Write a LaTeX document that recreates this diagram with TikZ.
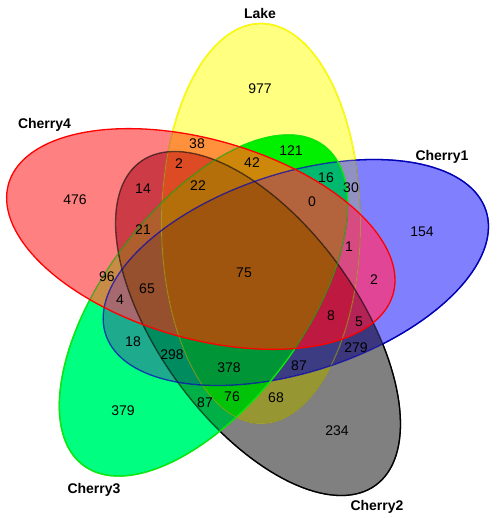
\documentclass[tikz,border=0pt]{standalone}
\usepackage{fontspec}
\setmainfont{Liberation Sans}
\def\pY{plot[domain=0:360,samples=144,variable=\t] ({261+200*cos(\t)*cos(90)-99.5*sin(\t)*sin(90)},{294.5+200*cos(\t)*sin(90)+99.5*sin(\t)*cos(90)}) -- cycle}
\def\pB{plot[domain=0:360,samples=144,variable=\t] ({295.8+200*cos(\t)*cos(18)-99.5*sin(\t)*sin(18)},{245.5+200*cos(\t)*sin(18)+99.5*sin(\t)*cos(18)}) -- cycle}
\def\pK{plot[domain=0:360,samples=144,variable=\t] ({258+200*cos(\t)*cos(-54)-99.5*sin(\t)*sin(-54)},{194.5+200*cos(\t)*sin(-54)+99.5*sin(\t)*cos(-54)}) -- cycle}
\def\pN{plot[domain=0:360,samples=144,variable=\t] ({203.5+200*cos(\t)*cos(53)-99.5*sin(\t)*sin(53)},{212.5+200*cos(\t)*sin(53)+99.5*sin(\t)*cos(53)}) -- cycle}
\def\pR{plot[domain=0:360,samples=144,variable=\t] ({200.8+200*cos(\t)*cos(164)-99.5*sin(\t)*sin(164)},{279+200*cos(\t)*sin(164)+99.5*sin(\t)*cos(164)}) -- cycle}
\def\pInv{(-20,-20) -- (-20,540) -- (520,540) -- (520,-20) -- cycle}
% region: Lake, Cherry1, Cherry2, Cherry3, Cherry4, colour
\newcommand\vreg[6]{%
  \begin{scope}
    \ifnum#1=1 \clip \pY; \else \clip \pInv \pY; \fi
    \ifnum#2=1 \clip \pB; \else \clip \pInv \pB; \fi
    \ifnum#3=1 \clip \pK; \else \clip \pInv \pK; \fi
    \ifnum#4=1 \clip \pN; \else \clip \pInv \pN; \fi
    \ifnum#5=1 \clip \pR; \else \clip \pInv \pR; \fi
    \definecolor{regc}{RGB}{#6}
    \fill[regc] (-5,-5) rectangle (503,523);
  \end{scope}}
\begin{document}
\begin{tikzpicture}[x=1pt,y=1pt]
\definecolor{cRed}{RGB}{255,0,0}
\definecolor{cYellow}{RGB}{255,255,0}
\definecolor{cBlueLine}{RGB}{0,0,180}
\definecolor{cGreenLine}{RGB}{10,235,10}
\tikzset{
  outl/.style={line width=1.3pt},
  num/.style={font=\fontsize{14}{16}\selectfont, inner sep=0pt, text=black},
  setlabel/.style={font=\fontsize{14}{16}\selectfont\bfseries, inner sep=0pt, anchor=base, text=black}
}
\useasboundingbox (0,0) rectangle (498,518);
\fill[white] (0,0) rectangle (498,518);
% regions        Y B K N R
\vreg{1}{0}{0}{0}{0}{255,255,128}
\vreg{0}{1}{0}{0}{0}{128,128,255}
\vreg{0}{0}{1}{0}{0}{128,128,128}
\vreg{0}{0}{0}{1}{0}{0,255,128}
\vreg{0}{0}{0}{0}{1}{255,128,128}
\vreg{1}{0}{0}{0}{1}{255,145,60}
\vreg{1}{0}{0}{1}{0}{0,240,0}
\vreg{1}{1}{0}{0}{0}{145,145,195}
\vreg{0}{0}{1}{0}{1}{205,60,70}
\vreg{0}{1}{0}{0}{1}{225,70,150}
\vreg{0}{1}{1}{0}{0}{60,55,125}
\vreg{1}{0}{1}{0}{0}{150,150,50}
\vreg{0}{0}{0}{1}{1}{200,140,70}
\vreg{0}{1}{0}{1}{0}{30,170,140}
\vreg{0}{0}{1}{1}{0}{0,175,70}
\vreg{1}{0}{1}{0}{1}{220,75,35}
\vreg{0}{0}{1}{1}{1}{175,95,45}
\vreg{1}{0}{0}{1}{1}{205,135,10}
\vreg{1}{1}{0}{1}{0}{0,185,110}
\vreg{1}{1}{0}{0}{1}{215,75,130}
\vreg{0}{1}{1}{0}{1}{180,35,85}
\vreg{1}{1}{1}{0}{0}{60,60,130}
\vreg{0}{1}{0}{1}{1}{165,105,110}
\vreg{0}{1}{1}{1}{0}{0,140,95}
\vreg{1}{0}{1}{1}{0}{0,195,10}
\vreg{1}{0}{1}{1}{1}{180,110,10}
\vreg{1}{1}{0}{1}{1}{180,100,60}
\vreg{1}{1}{1}{0}{1}{190,25,65}
\vreg{0}{1}{1}{1}{1}{150,80,45}
\vreg{1}{1}{1}{1}{0}{0,150,55}
\vreg{1}{1}{1}{1}{1}{160,85,15}
% outlines, dimmed where covered by other sets
\draw[outl, cYellow!60!black, opacity=0.5] \pY;
\draw[outl, black, opacity=0.6] \pK;
\draw[outl, cBlueLine, opacity=0.7] \pB;
\draw[outl, cGreenLine!70!black, opacity=0.6] \pN;
\begin{scope}
  \clip \pInv \pB; \clip \pInv \pK; \clip \pInv \pN; \clip \pInv \pR;
  \draw[outl, cYellow] \pY;
\end{scope}
\begin{scope}
  \clip \pInv \pY; \clip \pInv \pB; \clip \pInv \pN; \clip \pInv \pR;
  \draw[outl, black] \pK;
\end{scope}
\begin{scope}
  \clip \pInv \pY; \clip \pInv \pK; \clip \pInv \pN; \clip \pInv \pR;
  \draw[outl, cBlueLine] \pB;
\end{scope}
\begin{scope}
  \clip \pInv \pR;
  \draw[outl, cGreenLine] \pN;
\end{scope}
\draw[outl, cRed] \pR;
% set labels
\node[setlabel] (lLake) at (260,499.7) {Lake};
\node[setlabel] (lC1) at (442,357) {Cherry1};
\node[setlabel] (lC2) at (377,7.3) {Cherry2};
\node[setlabel] (lC3) at (94,24.7) {Cherry3};
\node[setlabel] (lC4) at (44.5,389.7) {Cherry4};
% counts
\node[num] (r977) at (260,429) {977};
\node[num] (r476) at (75,318) {476};
\node[num] (r38) at (197,374) {38};
\node[num] (r2a) at (179,354) {2};
\node[num] (r14) at (143,329) {14};
\node[num] (r22) at (198,332) {22};
\node[num] (r21) at (143,288) {21};
\node[num] (r42) at (252,355) {42};
\node[num] (r121) at (291,367) {121};
\node[num] (r16) at (326,340) {16};
\node[num] (r30) at (351,330) {30};
\node[num] (r0) at (312,316) {0};
\node[num] (r154) at (422,286) {154};
\node[num] (r1) at (349,271) {1};
\node[num] (r2b) at (374,238) {2};
\node[num] (r8) at (331,202) {8};
\node[num] (r5) at (359,196) {5};
\node[num] (r279) at (356,170) {279};
\node[num] (r87b) at (299,152) {87};
\node[num] (r68) at (276,120) {68};
\node[num] (r234) at (337,87) {234};
\node[num] (r75) at (244,245) {75};
\node[num] (r96) at (107,241) {96};
\node[num] (r65) at (147,229) {65};
\node[num] (r4) at (120,218) {4};
\node[num] (r18) at (133,176) {18};
\node[num] (r298) at (172,163) {298};
\node[num] (r378) at (229,150) {378};
\node[num] (r87a) at (205,115) {87};
\node[num] (r76) at (232,121) {76};
\node[num] (r379) at (123,107) {379};
\end{tikzpicture}
\end{document}
